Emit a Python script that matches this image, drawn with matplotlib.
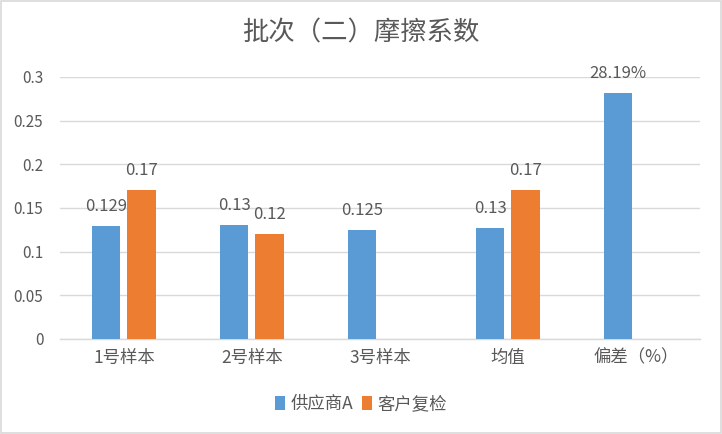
import matplotlib
matplotlib.use('Agg')
import matplotlib.pyplot as plt
import numpy as np

plt.rcParams['font.family'] = ['Noto Sans CJK SC', 'DejaVu Sans']

# data
categories = ['1号样本', '2号样本', '3号样本', '均值', '偏差（%）']
supplier_a = [0.129, 0.13, 0.125, 0.127, 0.2819]
customer = [0.17, 0.12, np.nan, 0.17, np.nan]
supplier_labels = ['0.129', '0.13', '0.125', '0.13', '28.19%']
customer_labels = ['0.17', '0.12', '', '0.17', '']
yticks = [0, 0.05, 0.1, 0.15, 0.2, 0.25, 0.3]
ytick_labels = ['0', '0.05', '0.1', '0.15', '0.2', '0.25', '0.3']

blue = '#5B9BD5'
orange = '#ED7D31'
text_c = '#595959'
grid_c = '#D9D9D9'

fig = plt.figure(figsize=(7.22, 4.34), dpi=100)
ax = fig.add_axes([0.083, 0.219, 0.8865, 0.6037])

x = np.arange(len(categories))
w = 0.225
off = 0.14
b1 = ax.bar(x - off, supplier_a, w, color=blue, label='供应商A', zorder=3)
b2 = ax.bar(x + off, customer, w, color=orange, label='客户复检', zorder=3)

for rect, lab in zip(b1, supplier_labels):
    ax.annotate(lab, (rect.get_x() + rect.get_width() / 2, rect.get_height()),
                xytext=(0, 8), textcoords='offset points', ha='center', va='bottom',
                fontsize=12, color=text_c)
for rect, lab in zip(b2, customer_labels):
    if lab:
        ax.annotate(lab, (rect.get_x() + rect.get_width() / 2, rect.get_height()),
                    xytext=(0, 8), textcoords='offset points', ha='center', va='bottom',
                    fontsize=12, color=text_c)

ax.set_xlim(-0.5, len(categories) - 0.5)
ax.set_ylim(0, 0.3)
ax.set_yticks(yticks)
ax.set_yticklabels(ytick_labels)
ax.set_xticks(x)
ax.set_xticklabels(categories)
ax.tick_params(axis='both', length=0, colors=text_c)
ax.tick_params(axis='y', pad=12, labelsize=11)
ax.tick_params(axis='x', pad=7, labelsize=12.5)
ax.grid(axis='y', color=grid_c, linewidth=1, zorder=0)
for s in ['top', 'right', 'left']:
    ax.spines[s].set_visible(False)
ax.spines['bottom'].set_color(grid_c)
ax.spines['bottom'].set_linewidth(1)

fig.suptitle('批次（二）摩擦系数', y=0.924, va='center', fontsize=19, color=text_c)

fig.legend(loc='center', bbox_to_anchor=(0.5, 0.069), ncol=2, frameon=False,
           fontsize=12.5, handlelength=0.6, handleheight=0.9, handletextpad=0.3,
           columnspacing=0.5, labelcolor=text_c)

fig.patches.append(plt.Rectangle((0.001, 0.002), 0.997, 0.995, transform=fig.transFigure,
                                 fill=False, edgecolor=grid_c, linewidth=1.2))

fig.savefig('out.png', dpi=100)
